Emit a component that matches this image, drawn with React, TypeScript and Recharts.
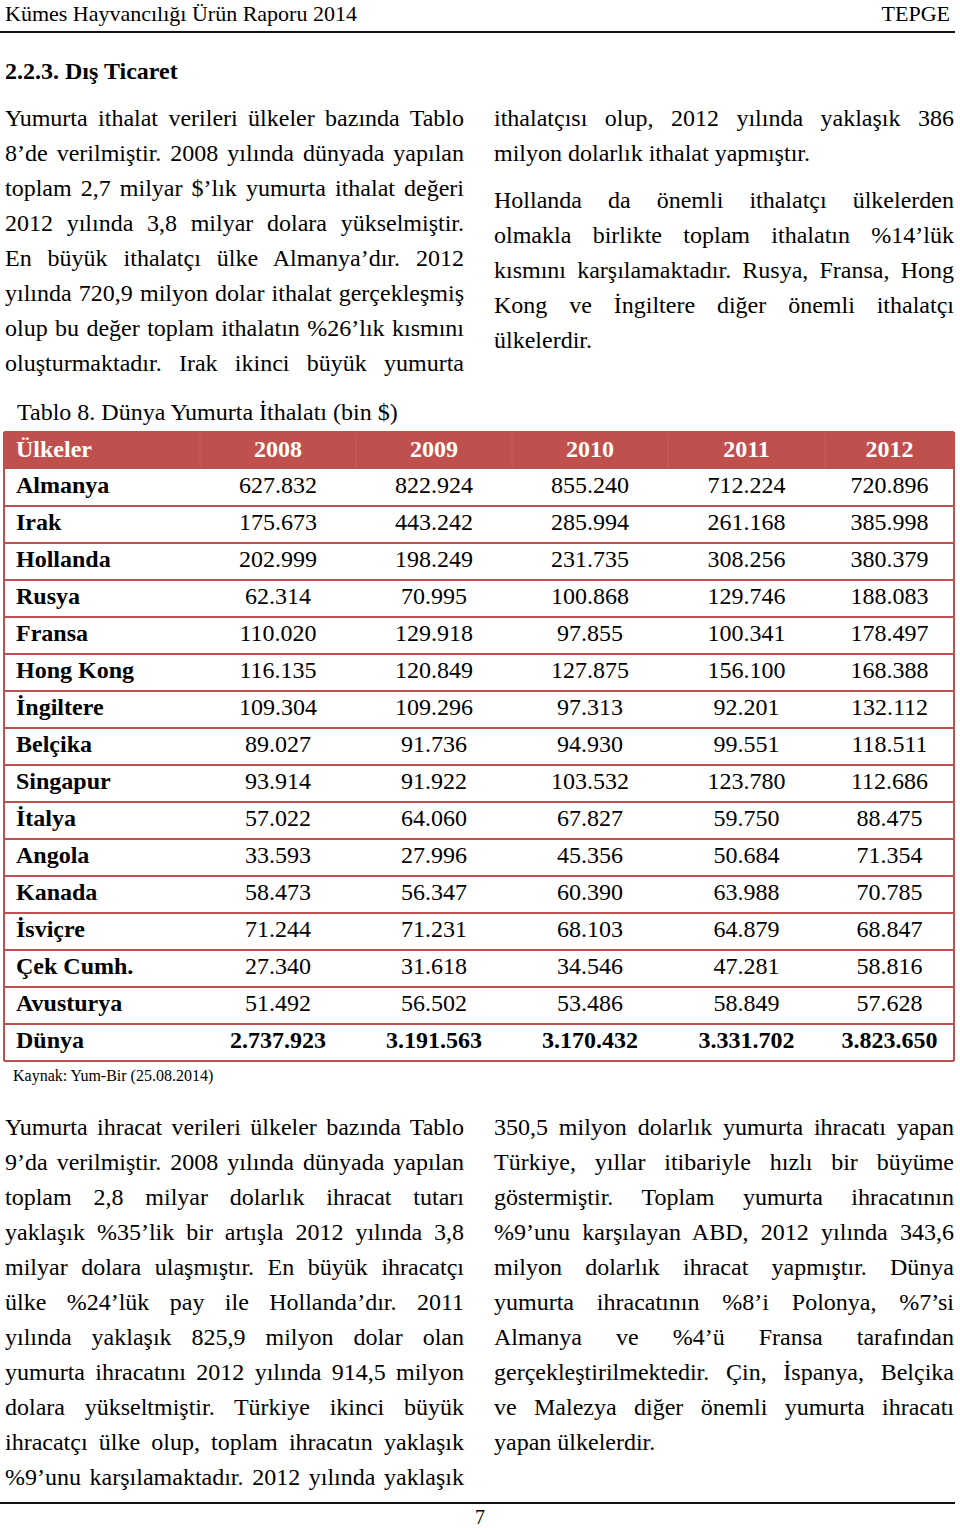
import React from 'react';
import { Surface, Layer, Rectangle, Text } from 'recharts';

const FONT = '"Liberation Serif", "Times New Roman", serif';

const headerTitle = 'Kümes Hayvancılığı Ürün Raporu 2014';
const headerRight = 'TEPGE';
const sectionTitle = '2.2.3. Dış Ticaret';
const tableCaption = 'Tablo 8. Dünya Yumurta İthalatı (bin $)';
const sourceNote = 'Kaynak: Yum-Bir (25.08.2014)';
const pageNumber = '7';

const importLeftLines = [
  'Yumurta ithalat verileri ülkeler bazında Tablo',
  '8’de verilmiştir. 2008 yılında dünyada yapılan',
  'toplam 2,7 milyar $’lık yumurta ithalat değeri',
  '2012 yılında 3,8 milyar dolara yükselmiştir.',
  'En büyük ithalatçı ülke Almanya’dır. 2012',
  'yılında 720,9 milyon dolar ithalat gerçekleşmiş',
  'olup bu değer toplam ithalatın %26’lık kısmını',
  'oluşturmaktadır. Irak ikinci büyük yumurta',
];
const importRightLines1 = [
  'ithalatçısı olup, 2012 yılında yaklaşık 386',
  'milyon dolarlık ithalat yapmıştır.',
];
const importRightLines2 = [
  'Hollanda da önemli ithalatçı ülkelerden',
  'olmakla birlikte toplam ithalatın %14’lük',
  'kısmını karşılamaktadır. Rusya, Fransa, Hong',
  'Kong ve İngiltere diğer önemli ithalatçı',
  'ülkelerdir.',
];
const exportLeftLines = [
  'Yumurta ihracat verileri ülkeler bazında Tablo',
  '9’da verilmiştir. 2008 yılında dünyada yapılan',
  'toplam 2,8 milyar dolarlık ihracat tutarı',
  'yaklaşık %35’lik bir artışla 2012 yılında 3,8',
  'milyar dolara ulaşmıştır. En büyük ihracatçı',
  'ülke %24’lük pay ile Hollanda’dır. 2011',
  'yılında yaklaşık 825,9 milyon dolar olan',
  'yumurta ihracatını 2012 yılında 914,5 milyon',
  'dolara yükseltmiştir. Türkiye ikinci büyük',
  'ihracatçı ülke olup, toplam ihracatın yaklaşık',
  '%9’unu karşılamaktadır. 2012 yılında yaklaşık',
];
const exportRightLines = [
  '350,5 milyon dolarlık yumurta ihracatı yapan',
  'Türkiye, yıllar itibariyle hızlı bir büyüme',
  'göstermiştir. Toplam yumurta ihracatının',
  '%9’unu karşılayan ABD, 2012 yılında 343,6',
  'milyon dolarlık ihracat yapmıştır. Dünya',
  'yumurta ihracatının %8’i Polonya, %7’si',
  'Almanya ve %4’ü Fransa tarafından',
  'gerçekleştirilmektedir. Çin, İspanya, Belçika',
  've Malezya diğer önemli yumurta ihracatı',
  'yapan ülkelerdir.',
];

const firstColumnLabel = 'Ülkeler';
const years = ['2008', '2009', '2010', '2011', '2012'];
const countries = [
  'Almanya', 'Irak', 'Hollanda', 'Rusya', 'Fransa', 'Hong Kong', 'İngiltere', 'Belçika',
  'Singapur', 'İtalya', 'Angola', 'Kanada', 'İsviçre', 'Çek Cumh.', 'Avusturya', 'Dünya',
];
const imports2008 = [627832, 175673, 202999, 62314, 110020, 116135, 109304, 89027, 93914, 57022, 33593, 58473, 71244, 27340, 51492, 2737923];
const imports2009 = [822924, 443242, 198249, 70995, 129918, 120849, 109296, 91736, 91922, 64060, 27996, 56347, 71231, 31618, 56502, 3191563];
const imports2010 = [855240, 285994, 231735, 100868, 97855, 127875, 97313, 94930, 103532, 67827, 45356, 60390, 68103, 34546, 53486, 3170432];
const imports2011 = [712224, 261168, 308256, 129746, 100341, 156100, 92201, 99551, 123780, 59750, 50684, 63988, 64879, 47281, 58849, 3331702];
const imports2012 = [720896, 385998, 380379, 188083, 178497, 168388, 132112, 118511, 112686, 88475, 71354, 70785, 68847, 58816, 57628, 3823650];
const seriesByYear = [imports2008, imports2009, imports2010, imports2011, imports2012];

const fmt = (n: number) => String(n).replace(/\B(?=(\d{3})+(?!\d))/g, '.');

const RED = '#c0504d';
const colEdges = [4, 200, 356, 512, 668, 825, 954];
const tableTop = 432;
const rowH = 37;

function Para({ lines, left, top, width, lastLeft }: { lines: string[]; left: number; top: number; width: number; lastLeft?: boolean }) {
  return (
    <div style={{ position: 'absolute', left, top, width, fontFamily: FONT, fontSize: 24, lineHeight: '35px', color: '#000' }}>
      {lines.map((l, i) => (
        <div
          key={i}
          style={{
            height: 35,
            textAlign: 'justify',
            textAlignLast: lastLeft && i === lines.length - 1 ? 'left' : 'justify',
          } as React.CSSProperties}
        >
          {l}
        </div>
      ))}
    </div>
  );
}

function ImportTable() {
  const nRows = countries.length;
  const bodyTop = tableTop + rowH;
  const tableBottom = bodyTop + nRows * rowH;
  const left = colEdges[0];
  const right = colEdges[colEdges.length - 1];
  const centers = colEdges.slice(1, -1).map((e, i) => (e + colEdges[i + 2]) / 2);
  return (
    <Surface width={960} height={1100} viewBox={{ x: 0, y: 0, width: 960, height: 1100 }}>
      <Layer>
        <Rectangle x={left} y={tableTop} width={right - left} height={rowH} fill={RED} stroke="none" />
        {colEdges.slice(1, -1).map((x, i) => (
          <line key={'hd' + i} x1={x} x2={x} y1={tableTop + 1} y2={tableTop + rowH - 1} stroke="#c95f5c" strokeWidth={1} />
        ))}
        <Text x={16} y={tableTop + 24.5} verticalAnchor="end" textAnchor="start" fill="#fff" fontFamily={FONT} fontSize={24} fontWeight="bold">
          {firstColumnLabel}
        </Text>
        {years.map((y, i) => (
          <Text key={'y' + y} x={centers[i]} y={tableTop + 24.5} verticalAnchor="end" textAnchor="middle" fill="#fff" fontFamily={FONT} fontSize={24} fontWeight="bold">
            {y}
          </Text>
        ))}
      </Layer>
      <Layer>
        {countries.map((c, r) => {
          const top = bodyTop + r * rowH;
          const isTotal = r === nRows - 1;
          return (
            <g key={'r' + r}>
              <Text x={16} y={top + 24} verticalAnchor="end" textAnchor="start" fill="#000" fontFamily={FONT} fontSize={24} fontWeight="bold">
                {c}
              </Text>
              {seriesByYear.map((s, k) => (
                <Text key={'v' + k} x={centers[k]} y={top + 24} verticalAnchor="end" textAnchor="middle" fill="#000" fontFamily={FONT} fontSize={24} fontWeight={isTotal ? 'bold' : 'normal'}>
                  {fmt(s[r])}
                </Text>
              ))}
            </g>
          );
        })}
      </Layer>
      <Layer>
        {countries.map((_, r) => (
          <line key={'h' + r} x1={left} x2={right} y1={bodyTop + (r + 1) * rowH} y2={bodyTop + (r + 1) * rowH} stroke={RED} strokeWidth={2} />
        ))}
        <line x1={left} x2={right} y1={tableTop} y2={tableTop} stroke={RED} strokeWidth={2} />
        <line x1={left} x2={left} y1={tableTop} y2={tableBottom} stroke={RED} strokeWidth={2} />
        <line x1={right} x2={right} y1={tableTop} y2={tableBottom} stroke={RED} strokeWidth={2} />
      </Layer>
    </Surface>
  );
}

export default function App() {
  return (
    <div style={{ position: 'absolute', left: 0, top: 0, width: 960, height: 1528, background: '#fff', overflow: 'hidden', fontFamily: FONT, color: '#000' }}>
      <div style={{ position: 'absolute', left: 5, top: 0, fontSize: 22, lineHeight: '28px' }}>{headerTitle}</div>
      <div style={{ position: 'absolute', right: 10, top: 0, fontSize: 22, lineHeight: '28px' }}>{headerRight}</div>
      <div style={{ position: 'absolute', left: 0, top: 31, width: 955, height: 1.5, background: '#111' }} />
      <div style={{ position: 'absolute', left: 5, top: 54, fontSize: 24, lineHeight: '35px', fontWeight: 'bold' }}>{sectionTitle}</div>

      <Para lines={importLeftLines} left={5} top={101} width={459} />
      <Para lines={importRightLines1} left={494} top={101} width={460} lastLeft />
      <Para lines={importRightLines2} left={494} top={183} width={460} lastLeft />

      <div style={{ position: 'absolute', left: 17, top: 395, fontSize: 24, lineHeight: '35px' }}>{tableCaption}</div>

      <div style={{ position: 'absolute', left: 0, top: 0 }}>
        <ImportTable />
      </div>

      <div style={{ position: 'absolute', left: 13, top: 1066, fontSize: 16, lineHeight: '20px' }}>{sourceNote}</div>

      <Para lines={exportLeftLines} left={5} top={1110} width={459} />
      <Para lines={exportRightLines} left={494} top={1110} width={460} lastLeft />

      <div style={{ position: 'absolute', left: 0, top: 1502, width: 955, height: 1.5, background: '#111' }} />
      <div style={{ position: 'absolute', left: 470, width: 20, textAlign: 'center', top: 1507, fontSize: 20, lineHeight: '20px' }}>{pageNumber}</div>
    </div>
  );
}
